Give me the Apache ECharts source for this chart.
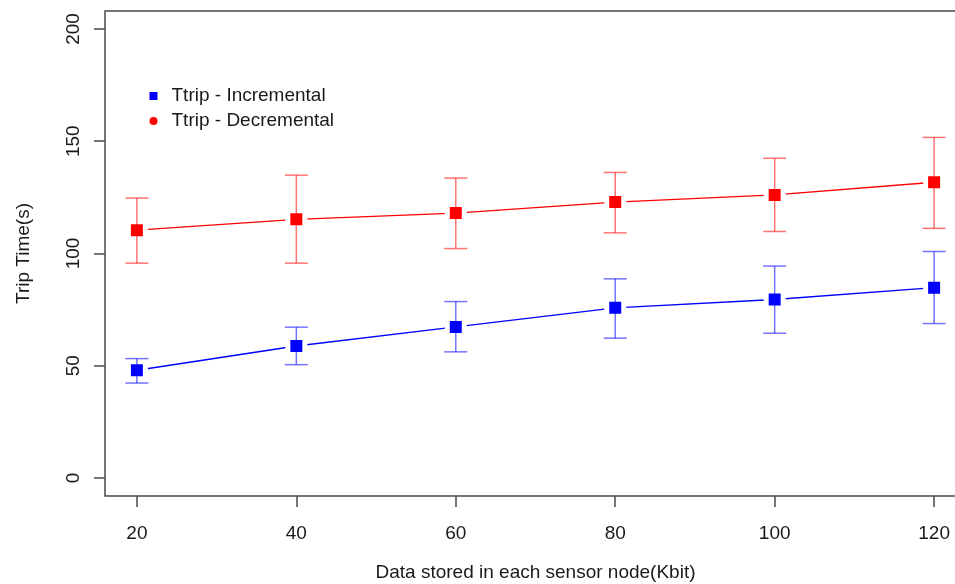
<!DOCTYPE html>
<html>
<head>
<meta charset="utf-8">
<script src="https://cdn.jsdelivr.net/npm/echarts@6/dist/echarts.min.js"></script>
<style>
html, body { margin: 0; padding: 0; background: #fff; }
#container { width: 955px; height: 584px; }
</style>
</head>
<body>
<div id="container"></div>
<script>
var xValues = [20, 40, 60, 80, 100, 120];
var xTicks = [20, 40, 60, 80, 100, 120];
var yTicks = [0, 50, 100, 150, 200];

var incMean = [48.0, 58.8, 67.3, 75.8, 79.5, 84.8];
var incLow  = [42.3, 50.5, 56.2, 62.3, 64.5, 68.8];
var incHigh = [53.2, 67.2, 78.6, 88.7, 94.4, 100.9];

var decMean = [110.4, 115.2, 118.0, 122.9, 126.1, 131.7];
var decLow  = [95.7, 95.7, 102.2, 109.2, 109.8, 111.2];
var decHigh = [124.7, 134.9, 133.6, 136.1, 142.4, 151.7];

var font = 'Liberation Sans';
var textColor = '#1a1a1a';
var boxColor = '#4a4a4a';

function pairs(vals) {
    return xValues.map(function (x, i) { return [x, vals[i]]; });
}
function bars(lo, hi) {
    return xValues.map(function (x, i) { return [x, lo[i], hi[i]]; });
}

function errorBar(color) {
    return function (params, api) {
        var x = api.value(0);
        var pLo = api.coord([x, api.value(1)]);
        var pHi = api.coord([x, api.value(2)]);
        var half = 11.5;
        var st = { stroke: color, lineWidth: 1.5 };
        return {
            type: 'group',
            children: [
                { type: 'line', shape: { x1: pHi[0], y1: pHi[1], x2: pLo[0], y2: pLo[1] }, style: st },
                { type: 'line', shape: { x1: pHi[0] - half, y1: pHi[1], x2: pHi[0] + half, y2: pHi[1] }, style: st },
                { type: 'line', shape: { x1: pLo[0] - half, y1: pLo[1], x2: pLo[0] + half, y2: pLo[1] }, style: st }
            ]
        };
    };
}

var dom = document.getElementById('container');
var myChart = echarts.init(dom, null, { renderer: 'canvas' });

var option = {
    animation: false,
    backgroundColor: '#fff',
    textStyle: { fontFamily: font },
    grid: {
        left: 105, top: 11, width: 861, height: 485,
        outerBoundsMode: 'none',
        containLabel: false,
        show: true, borderColor: boxColor, borderWidth: 1.5,
        backgroundColor: 'transparent'
    },
    legend: {
        orient: 'vertical',
        left: 149.5,
        top: 86,
        padding: 0,
        itemGap: 5,
        itemWidth: 8,
        itemHeight: 8,
        textStyle: { fontFamily: font, fontSize: 19, color: textColor, lineHeight: 20, padding: [0, 0, 0, 9] },
        data: [
            { name: 'Ttrip - Incremental', icon: 'rect', itemStyle: { color: '#0000ff' } },
            { name: 'Ttrip - Decremental', icon: 'circle', itemStyle: { color: '#ff0000' } }
        ]
    },
    xAxis: {
        type: 'value',
        min: 16, max: 124,
        name: 'Data stored in each sensor node(Kbit)',
        nameLocation: 'middle',
        nameGap: 67,
        nameTextStyle: { fontFamily: font, fontSize: 19, color: textColor },
        axisLine: { show: false, onZero: false },
        axisTick: { show: true, length: 11, customValues: xTicks, lineStyle: { color: boxColor, width: 1.5 } },
        axisLabel: { customValues: xTicks, margin: 28, fontFamily: font, fontSize: 19, color: textColor },
        splitLine: { show: false }
    },
    yAxis: {
        type: 'value',
        min: -8, max: 208,
        name: 'Trip Time(s)',
        nameLocation: 'middle',
        nameRotate: 90,
        nameGap: 72,
        nameTextStyle: { fontFamily: font, fontSize: 19, color: textColor },
        axisLine: { show: false, onZero: false },
        axisTick: { show: true, length: 11, customValues: yTicks, lineStyle: { color: boxColor, width: 1.5 } },
        axisLabel: { customValues: yTicks, rotate: 90, margin: 22, fontFamily: font, fontSize: 19, color: textColor },
        splitLine: { show: false }
    },
    series: [
        {
            name: 'Ttrip - Incremental', type: 'line', data: pairs(incMean),
            showSymbol: false, silent: true, z: 2,
            lineStyle: { color: '#0000ff', width: 1.4 }, itemStyle: { color: '#0000ff' }
        },
        {
            name: 'Ttrip - Decremental', type: 'line', data: pairs(decMean),
            showSymbol: false, silent: true, z: 2,
            lineStyle: { color: '#ff0000', width: 1.4 }, itemStyle: { color: '#ff0000' }
        },
        {
            name: 'Ttrip - Incremental', type: 'scatter', data: pairs(incMean),
            symbol: 'rect', symbolSize: 17, z: 3, silent: true,
            itemStyle: { color: '#0000ff', borderColor: '#ffffff', borderWidth: 5, opacity: 1 }
        },
        {
            name: 'Ttrip - Decremental', type: 'scatter', data: pairs(decMean),
            symbol: 'rect', symbolSize: 17, z: 3, silent: true,
            itemStyle: { color: '#ff0000', borderColor: '#ffffff', borderWidth: 5, opacity: 1 }
        },
        {
            name: 'Ttrip - Incremental', type: 'custom', data: bars(incLow, incHigh),
            encode: { x: 0, y: [1, 2] }, z: 4, silent: true,
            itemStyle: { color: '#0000ff' },
            renderItem: errorBar('rgba(0,0,255,0.55)')
        },
        {
            name: 'Ttrip - Decremental', type: 'custom', data: bars(decLow, decHigh),
            encode: { x: 0, y: [1, 2] }, z: 4, silent: true,
            itemStyle: { color: '#ff0000' },
            renderItem: errorBar('rgba(255,0,0,0.55)')
        }
    ]
};

myChart.setOption(option);
</script>
</body>
</html>
